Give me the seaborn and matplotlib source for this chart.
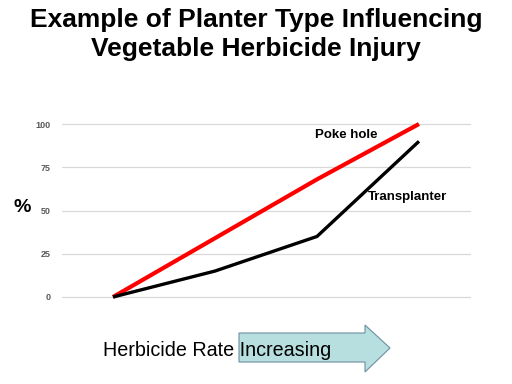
import pandas as pd
import matplotlib.pyplot as plt
import seaborn as sns
from matplotlib.patches import Polygon

# Dados
rates = ["r1", "r2", "r3", "r4"]
poke_hole = [0, 34, 68, 100]
transplanter = [0, 15, 35, 90]
yticks = [0, 25, 50, 75, 100]

df = pd.DataFrame({
    "rate": rates * 2,
    "injury": poke_hole + transplanter,
    "planter": ["Poke hole"] * 4 + ["Transplanter"] * 4,
})

sns.set_theme(style="white")
plt.rcParams['font.family'] = ['Liberation Sans', 'DejaVu Sans']
plt.rcParams['text.color'] = 'black'

fig = plt.figure(figsize=(5.12, 3.84), dpi=100)
W, H = 512, 384
ax = fig.add_axes([62 / W, 1 - 297 / H, 408 / W, 173 / H])

sns.lineplot(data=df, x="rate", y="injury", hue="planter",
             palette={"Poke hole": "#ff0000", "Transplanter": "#000000"},
             linewidth=2.4, legend=False, ax=ax)
for ln in ax.lines:
    ln.set_clip_on(False)
    ln.set_solid_capstyle("butt")
ax.lines[0].set_linewidth(3.0)  # Poke hole mais grossa

ax.set_xlim(-0.5, 3.5)
ax.set_ylim(0, 100)
ax.set_yticks(yticks)
ax.set_yticklabels([str(v) for v in yticks], fontsize=6.5, color="#595959", fontweight="bold")
ax.set_xticks([])
ax.set_xlabel("")
ax.set_ylabel("")
ax.tick_params(axis="y", length=0, pad=8)
ax.grid(axis="y", color="#d9d9d9", linewidth=0.9)
for gl in ax.get_ygridlines():
    gl.set_clip_on(False)
ax.set_axisbelow(True)
for s in ax.spines.values():
    s.set_visible(False)

# Rótulos das séries
fig.text(346 / W, 1 - 135 / H, "Poke hole", fontsize=9.5, fontweight="bold", ha="center", va="center")
fig.text(408 / W, 1 - 197 / H, "Transplanter", fontsize=9.5, fontweight="bold", ha="center", va="center")
fig.text(22 / W, 1 - 208 / H, "%", fontsize=14, fontweight="bold", ha="center", va="center")

# Título
fig.text(0.5, 1 - 20 / H, "Example of Planter Type Influencing", fontsize=19,
         fontweight="bold", ha="center", va="center")
fig.text(0.5, 1 - 49 / H, "Vegetable Herbicide Injury", fontsize=19,
         fontweight="bold", ha="center", va="center")

# Seta "Increasing"
pts = [(239, 333), (365, 333), (365, 325), (390, 348), (365, 372), (365, 362), (239, 362)]
arrow = Polygon([(x / W, 1 - y / H) for x, y in pts], closed=True,
                facecolor="#b7dfe0", edgecolor="#6d8fa0", linewidth=0.8,
                transform=fig.transFigure, zorder=0)
fig.patches.append(arrow)
fig.text(103 / W, 1 - 350 / H, "Herbicide Rate Increasing", fontsize=14.2,
         ha="left", va="center", zorder=5)

fig.savefig("out.png", dpi=100)
